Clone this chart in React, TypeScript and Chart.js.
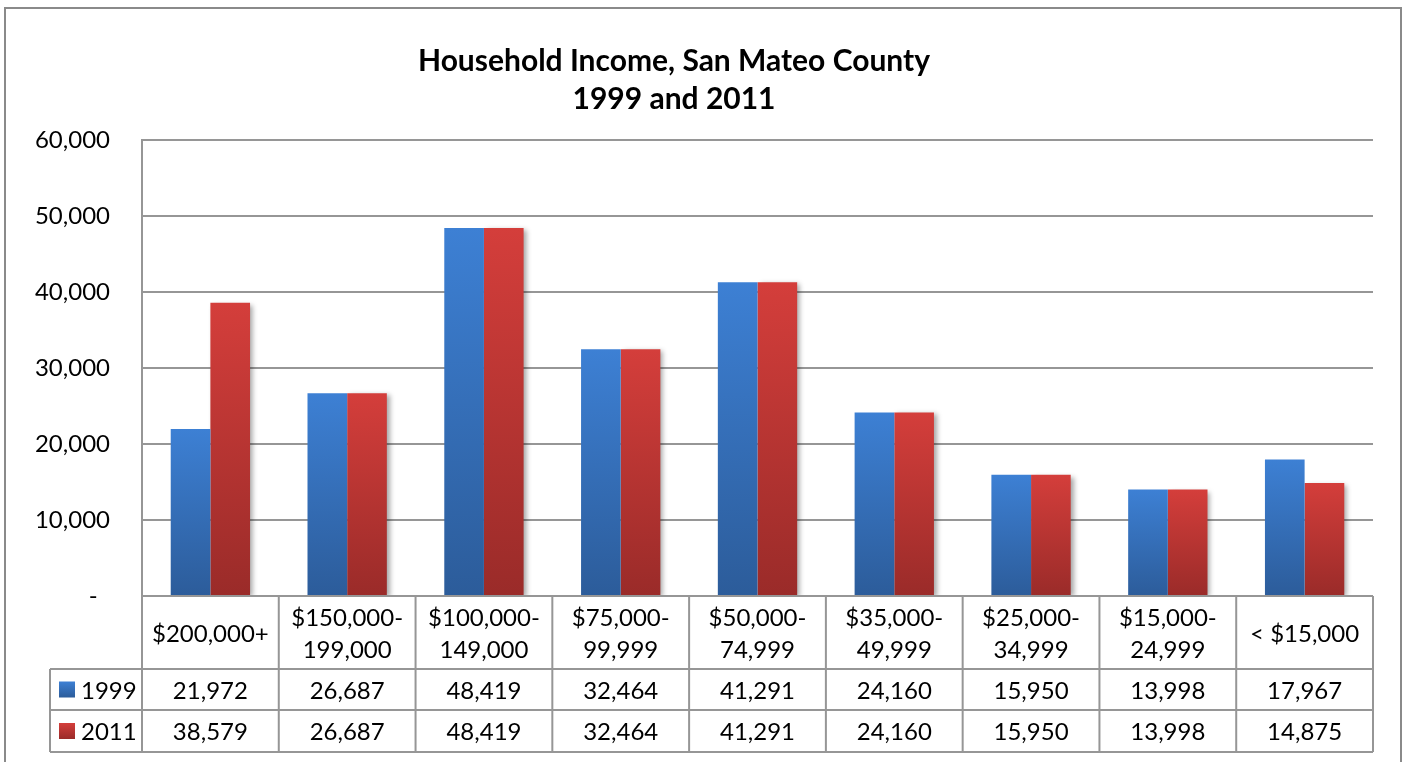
import React, { useEffect, useRef } from "react";
import { Chart, registerables } from "chart.js";

Chart.register(...registerables);

const titleLines = ["Household Income, San Mateo County", "1999 and 2011"];
const categories: string[][] = [
  ["$200,000+"],
  ["$150,000-", "199,000"],
  ["$100,000-", "149,000"],
  ["$75,000-", "99,999"],
  ["$50,000-", "74,999"],
  ["$35,000-", "49,999"],
  ["$25,000-", "34,999"],
  ["$15,000-", "24,999"],
  ["< $15,000"],
];
const seriesNames = ["1999", "2011"];
const values1999 = [21972, 26687, 48419, 32464, 41291, 24160, 15950, 13998, 17967];
const values2011 = [38579, 26687, 48419, 32464, 41291, 24160, 15950, 13998, 14875];
const yMax = 60000;
const yStep = 10000;

const blueTop = "#3d80d4";
const blueBottom = "#2c5c9a";
const redTop = "#d43e3b";
const redBottom = "#9a2b29";
const lineColor = "#969696";
const FONT = "Lato, 'Noto Sans', sans-serif";

function barGradient(top: string, bottom: string) {
  return (ctx: any) => {
    const chart = ctx.chart;
    const area = chart.chartArea;
    if (!area || ctx.raw == null) return top;
    const y = chart.scales.y;
    const y0 = y.getPixelForValue(ctx.raw);
    const y1 = y.getPixelForValue(0);
    const g = chart.ctx.createLinearGradient(0, y0, 0, y1);
    g.addColorStop(0, top);
    g.addColorStop(1, bottom);
    return g;
  };
}

const tablePlugin = {
  id: "tablePlugin",
  beforeDatasetDraw(chart: any, args: any) {
    const ctx = chart.ctx;
    ctx.save();
    if (args.index === 1) {
      ctx.shadowColor = "rgba(0,0,0,0.35)";
      ctx.shadowBlur = 5;
      ctx.shadowOffsetX = 3;
      ctx.shadowOffsetY = 2;
    }
  },
  afterDatasetDraw(chart: any) {
    chart.ctx.restore();
  },
  afterDraw(chart: any) {
    const ctx = chart.ctx;
    const area = chart.chartArea;
    const n = chart.data.labels.length;
    const w = (area.right - area.left) / n;
    const b = area.bottom;
    const rowH = [73, 41, 42];
    const r1 = b + rowH[0];
    const r2 = r1 + rowH[1];
    const r3 = r2 + rowH[2];
    const legendLeft = 50;

    ctx.save();
    // outer frame
    ctx.strokeStyle = "#8a8a8a";
    ctx.lineWidth = 2;
    ctx.strokeRect(5, 8, 1396, 800);

    // title
    ctx.fillStyle = "#000";
    ctx.textAlign = "center";
    ctx.textBaseline = "alphabetic";
    ctx.font = `bold 30px ${FONT}`;
    ctx.fillText(titleLines[0], 674, 71);
    ctx.fillText(titleLines[1], 674, 109);

    // table lines
    ctx.strokeStyle = lineColor;
    ctx.lineWidth = 2;
    ctx.beginPath();
    ctx.moveTo(area.left, b);
    ctx.lineTo(area.right, b);
    for (const yy of [r1, r2, r3]) {
      ctx.moveTo(legendLeft, yy);
      ctx.lineTo(area.right, yy);
    }
    ctx.moveTo(legendLeft, r1);
    ctx.lineTo(legendLeft, r3);
    for (let k = 0; k <= n; k++) {
      const x = area.left + k * w;
      ctx.moveTo(x, b);
      ctx.lineTo(x, r3);
    }
    ctx.stroke();

    // category labels
    ctx.fillStyle = "#000";
    ctx.font = `24px ${FONT}`;
    ctx.textAlign = "center";
    const xs = chart.scales.x;
    chart.data.labels.forEach((lab: string[], i: number) => {
      const cx = xs.getPixelForValue(i);
      const mid = (b + r1) / 2;
      if (lab.length === 1) {
        ctx.fillText(lab[0], cx, mid + 9);
      } else {
        ctx.fillText(lab[0], cx, mid - 16 + 9);
        ctx.fillText(lab[1], cx, mid + 16 + 9);
      }
    });

    // values and legend
    const rows = [
      [r1, r2],
      [r2, r3],
    ];
    const tops = [blueTop, redTop];
    const bottoms = [blueBottom, redBottom];
    chart.data.datasets.forEach((ds: any, di: number) => {
      const mid = (rows[di][0] + rows[di][1]) / 2;
      ctx.textAlign = "center";
      ds.data.forEach((v: number, i: number) => {
        const cx = xs.getPixelForValue(i);
        ctx.fillText(v.toLocaleString("en-US"), cx, mid + 9);
      });
      const g = ctx.createLinearGradient(0, mid - 8, 0, mid + 8);
      g.addColorStop(0, tops[di]);
      g.addColorStop(1, bottoms[di]);
      ctx.fillStyle = g;
      ctx.fillRect(59, mid - 8, 16, 16);
      ctx.fillStyle = "#000";
      ctx.textAlign = "left";
      ctx.fillText(ds.label, 81, mid + 9);
    });
    ctx.restore();
  },
};

export default function App() {
  const ref = useRef<HTMLCanvasElement>(null);
  useEffect(() => {
    document.body.style.margin = "0";
    document.body.style.overflow = "hidden";
    const chart = new Chart(ref.current!, {
      type: "bar",
      data: {
        labels: categories as any,
        datasets: [
          {
            label: seriesNames[0],
            data: values1999,
            backgroundColor: barGradient(blueTop, blueBottom) as any,
            borderWidth: 0,
          },
          {
            label: seriesNames[1],
            data: values2011,
            backgroundColor: barGradient(redTop, redBottom) as any,
            borderWidth: 0,
          },
        ],
      },
      options: {
        animation: false,
        responsive: false,
        devicePixelRatio: 1,
        layout: { padding: { top: 140, right: 30, bottom: 166, left: 0 } },
        plugins: {
          legend: { display: false },
          title: { display: false },
          tooltip: { enabled: false },
        },
        datasets: {
          bar: { categoryPercentage: 0.58, barPercentage: 1 },
        },
        scales: {
          x: {
            display: false,
            grid: { display: false },
          },
          y: {
            min: 0,
            max: yMax,
            afterFit: (s: any) => {
              s.width = 142;
            },
            ticks: {
              stepSize: yStep,
              padding: 32,
              color: "#000",
              font: { family: FONT, size: 24 },
              callback: (v: any) => (Number(v) === 0 ? "-  " : Number(v).toLocaleString("en-US")),
            },
            grid: { color: lineColor, lineWidth: 2, drawTicks: false },
            border: { display: true, color: lineColor, width: 2 },
          },
        },
      },
      plugins: [tablePlugin],
    });
    return () => chart.destroy();
  }, []);
  return (
    <div style={{ position: "absolute", left: 0, top: 0, width: 1403, height: 762 }}>
      <canvas ref={ref} width={1403} height={762} style={{ width: 1403, height: 762 }} />
    </div>
  );
}
